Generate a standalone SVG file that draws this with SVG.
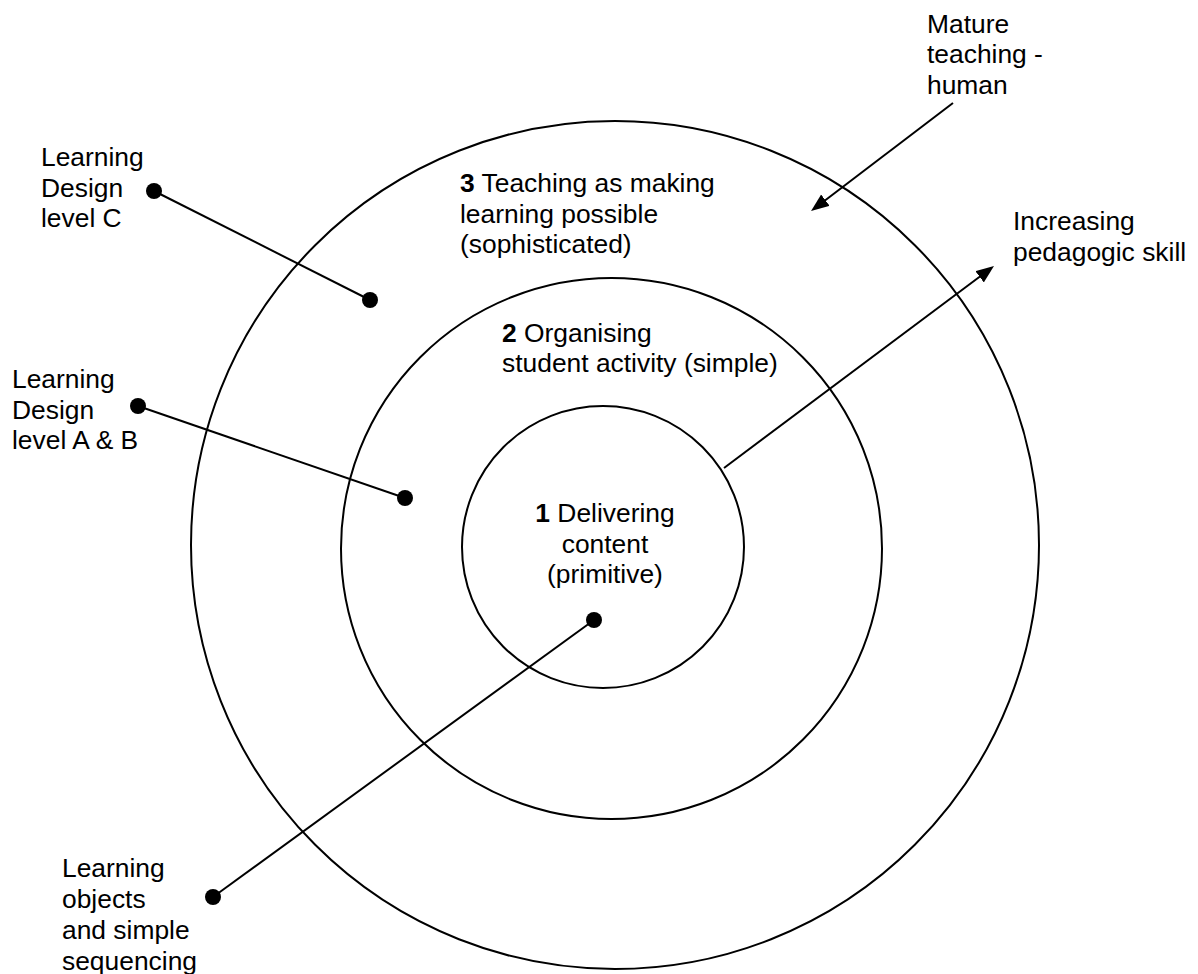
<svg xmlns="http://www.w3.org/2000/svg" width="1198" height="974" viewBox="0 0 1198 974">
<style>
.ring{fill:none;stroke:#000;stroke-width:2}
.ln{stroke:#000;stroke-width:2;fill:none}
.dot{fill:#000}
text{font-family:"Liberation Sans",Arial,sans-serif;font-size:26.4px;fill:#000}
.b{font-weight:bold}
</style>
<defs>
<marker id="ah" markerUnits="userSpaceOnUse" markerWidth="20" markerHeight="16" refX="8" refY="7" orient="auto">
<path d="M0,0 L18,7 L0,14 z" fill="#000"/>
</marker>
</defs>
<rect width="1198" height="974" fill="#fff"/>
<g id="ring3"><circle class="ring" cx="615" cy="545" r="424"/></g>
<g id="ring2"><circle class="ring" cx="611.5" cy="548.5" r="270.5"/></g>
<g id="ring1"><circle class="ring" cx="603" cy="547" r="141"/></g>
<g id="connectors">
<line class="ln" x1="154" y1="191" x2="370" y2="300"/>
<circle class="dot" cx="154" cy="191" r="8"/>
<circle class="dot" cx="370" cy="300" r="8"/>
<line class="ln" x1="138" y1="406" x2="405" y2="498"/>
<circle class="dot" cx="138" cy="406" r="8"/>
<circle class="dot" cx="405" cy="498" r="8"/>
<line class="ln" x1="594" y1="620" x2="213" y2="897"/>
<circle class="dot" cx="594" cy="620" r="8"/>
<circle class="dot" cx="213" cy="897" r="8"/>
<line class="ln" x1="724" y1="468" x2="986" y2="272" marker-end="url(#ah)"/>
<line class="ln" x1="953" y1="103" x2="819" y2="205" marker-end="url(#ah)"/>
</g>
<g id="label-ring3">
<text x="460" y="192"><tspan class="b">3</tspan> Teaching as making</text>
<text x="460" y="223">learning possible</text>
<text x="460" y="253">(sophisticated)</text>
</g>
<g id="label-ring2">
<text x="502" y="342"><tspan class="b">2</tspan> Organising</text>
<text x="502" y="372">student activity (simple)</text>
</g>
<g id="label-ring1" text-anchor="middle">
<text x="605" y="522"><tspan class="b">1</tspan> Delivering</text>
<text x="605" y="552.5">content</text>
<text x="605" y="583">(primitive)</text>
</g>
<g id="label-ldc">
<text x="41" y="166">Learning</text>
<text x="41" y="196.5">Design</text>
<text x="41" y="227">level C</text>
</g>
<g id="label-ldab">
<text x="12" y="388">Learning</text>
<text x="12" y="418.5">Design</text>
<text x="12" y="448.5">level A &amp; B</text>
</g>
<g id="label-lo">
<text x="62" y="877">Learning</text>
<text x="62" y="908">objects</text>
<text x="62" y="939">and simple</text>
<text x="62" y="970">sequencing</text>
</g>
<g id="label-mature">
<text x="927" y="33">Mature</text>
<text x="927" y="63">teaching -</text>
<text x="927" y="93.5">human</text>
</g>
<g id="label-skill">
<text x="1013" y="230">Increasing</text>
<text x="1013" y="260.5">pedagogic skill</text>
</g>
</svg>
